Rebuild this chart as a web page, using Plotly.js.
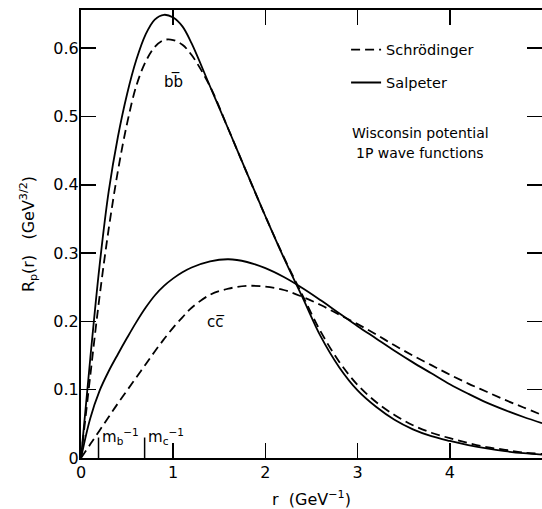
<!DOCTYPE html>
<html>
<head>
<meta charset="utf-8">
<script src="https://cdn.plot.ly/plotly-3.0.1.min.js"></script>
<style>html,body{margin:0;padding:0;background:#fff;}#chart{width:542px;height:509px;}</style>
</head>
<body>
<div id="chart"></div>
<script>
// common r grid (GeV^-1)
const r = [0, 0.1, 0.2, 0.3, 0.4, 0.5, 0.6, 0.7, 0.8, 0.9, 1.0, 1.1, 1.2, 1.4, 1.6, 1.8, 2.0, 2.2, 2.4, 2.6, 2.8, 3.0, 3.2, 3.4, 3.6, 3.8, 4.0, 4.2, 4.4, 4.6, 4.8, 5.0];
// b-bbar, Salpeter (solid)
const bbSal = [0, 0.145, 0.28, 0.39, 0.47, 0.533, 0.583, 0.620, 0.642, 0.649, 0.645, 0.632, 0.607, 0.544, 0.481, 0.417, 0.354, 0.293, 0.236, 0.178, 0.133, 0.099, 0.075, 0.056, 0.042, 0.032, 0.025, 0.019, 0.014, 0.010, 0.007, 0.005];
// b-bbar, Schrodinger (dashed)
const bbSch = [0, 0.12, 0.235, 0.335, 0.42, 0.49, 0.545, 0.58, 0.602, 0.612, 0.612, 0.605, 0.59, 0.544, 0.481, 0.417, 0.354, 0.294, 0.239, 0.185, 0.141, 0.107, 0.082, 0.063, 0.048, 0.037, 0.029, 0.022, 0.016, 0.012, 0.008, 0.006];
// c-cbar, Salpeter (solid)
const ccSal = [0, 0.058, 0.098, 0.127, 0.152, 0.176, 0.199, 0.220, 0.238, 0.252, 0.263, 0.272, 0.279, 0.288, 0.291, 0.287, 0.278, 0.265, 0.249, 0.231, 0.212, 0.193, 0.175, 0.157, 0.140, 0.124, 0.108, 0.094, 0.081, 0.070, 0.060, 0.051];
// c-cbar, Schrodinger (dashed)
const ccSch = [0, 0.02, 0.04, 0.06, 0.08, 0.099, 0.118, 0.137, 0.156, 0.174, 0.191, 0.206, 0.220, 0.239, 0.248, 0.252, 0.251, 0.246, 0.236, 0.224, 0.210, 0.196, 0.181, 0.165, 0.150, 0.136, 0.122, 0.109, 0.097, 0.085, 0.074, 0.063];
// inverse quark masses marked on the r axis
const massR = [0.19, 0.69];
const massLabels = ['m<sub>b</sub><sup>−1</sup>', 'm<sub>c</sub><sup>−1</sup>'];
const massTickTop = 0.03;
// axis ticks
const xTicks = [0, 1, 2, 3, 4, 5];
const yTicks = [0, 0.1, 0.2, 0.3, 0.4, 0.5, 0.6];
const yTickText = ['0', '0.1', '0.2', '0.3', '0.4', '0.5', '0.6'];

const FONT = 'DejaVu Sans, Liberation Sans, sans-serif';
const dashStyle = '9px,5px';
const lw = 1.8;

const traces = [
  {x: r, y: bbSch, name: 'Schrödinger', legendgroup: 'a', showlegend: true,
   mode: 'lines', line: {color: '#000', width: lw, dash: dashStyle, shape: 'spline', smoothing: 1}},
  {x: r, y: bbSal, name: 'Salpeter', legendgroup: 'b', showlegend: true,
   mode: 'lines', line: {color: '#000', width: lw, shape: 'spline', smoothing: 1}},
  {x: r, y: ccSch, name: 'Schrödinger', legendgroup: 'a', showlegend: false,
   mode: 'lines', line: {color: '#000', width: lw, dash: dashStyle, shape: 'spline', smoothing: 1}},
  {x: r, y: ccSal, name: 'Salpeter', legendgroup: 'b', showlegend: false,
   mode: 'lines', line: {color: '#000', width: lw, shape: 'spline', smoothing: 1}}
];
massR.forEach(function (m) {
  traces.push({x: [m, m], y: [0, massTickTop], mode: 'lines', showlegend: false,
    hoverinfo: 'skip', line: {color: '#000', width: 1.5}});
});

const annotations = [
  {x: 1.0, y: 0.552, xref: 'x', yref: 'y', text: 'bb\u0305', showarrow: false,
   font: {family: FONT, size: 15, color: '#000'}},
  {x: 1.46, y: 0.199, xref: 'x', yref: 'y', text: 'cc\u0305', showarrow: false,
   font: {family: FONT, size: 15, color: '#000'}},
  {x: 3.68, y: 0.476, xref: 'x', yref: 'y', text: 'Wisconsin potential', showarrow: false,
   font: {family: FONT, size: 14, color: '#000'}},
  {x: 3.68, y: 0.447, xref: 'x', yref: 'y', text: '1P wave functions', showarrow: false,
   font: {family: FONT, size: 14, color: '#000'}}
];
massR.forEach(function (m, i) {
  annotations.push({x: m, y: 0.031, xref: 'x', yref: 'y', text: massLabels[i], showarrow: false,
    xanchor: 'left', xshift: 1, font: {family: FONT, size: 15, color: '#000'}});
});

const axisCommon = {
  showgrid: false, zeroline: false, showline: true, linecolor: '#000', linewidth: 2,
  mirror: 'ticks', ticks: 'inside', ticklen: 15, tickwidth: 1.5, tickcolor: '#000',
  tickfont: {family: FONT, size: 16, color: '#000'}
};

const layout = {
  width: 542, height: 509,
  margin: {l: 81, r: 0, t: 10, b: 51},
  paper_bgcolor: '#fff', plot_bgcolor: '#fff',
  showlegend: true,
  legend: {x: 0.575, y: 0.947, xanchor: 'left', yanchor: 'top', traceorder: 'grouped',
    tracegroupgap: 11, bgcolor: 'rgba(0,0,0,0)', borderwidth: 0,
    font: {family: FONT, size: 14.5, color: '#000'}},
  xaxis: Object.assign({}, axisCommon, {
    range: [0, 5], tickvals: xTicks, ticktext: xTicks.map(String), ticklabelstandoff: -1,
    title: {text: 'r  (GeV<sup>−1</sup>)', standoff: 13, font: {family: FONT, size: 16, color: '#000'}}
  }),
  yaxis: Object.assign({}, axisCommon, {
    range: [0, 0.656], tickvals: yTicks, ticktext: yTickText, ticklabelstandoff: -3,
    title: {text: 'R<sub>p</sub>(r)   (GeV<sup>3/2</sup>)', standoff: 15, font: {family: FONT, size: 16, color: '#000'}}
  }),
  annotations: annotations
};

Plotly.newPlot('chart', traces, layout, {displayModeBar: false, staticPlot: true});
</script>
</body>
</html>
